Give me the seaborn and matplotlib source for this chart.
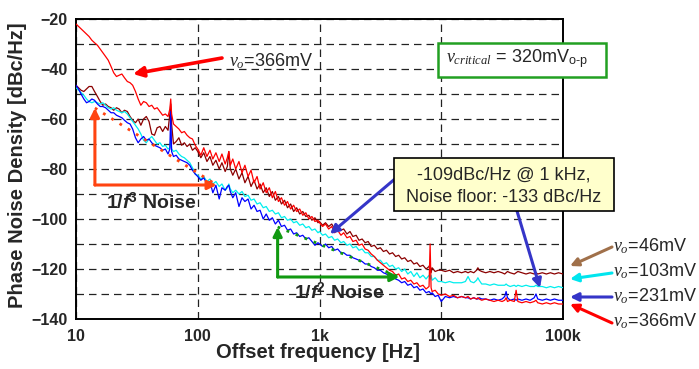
import matplotlib
matplotlib.use("Agg")
import matplotlib.pyplot as plt
from matplotlib.patches import Rectangle
from matplotlib.ticker import NullLocator
import pandas as pd
import seaborn as sns

# ---------------- data ----------------
freq_hz = [
    10, 10.5, 11, 11.6, 12.2, 12.8, 13.5, 14.2, 15, 15.8,
    16.6, 17.5, 18.4, 19.4, 20.4, 21.5, 22.6, 23.8, 25, 26.4,
    27.8, 29.2, 30.8, 32.4, 34.1, 35.9, 37.8, 39.8, 41.9, 44.1,
    46.4, 48.9, 51.5, 54.2, 57, 59, 60, 61, 63.2, 66.5,
    70, 73.7, 77.6, 81.7, 86, 90.5, 95.3,
    100, 106, 112, 119, 126, 133, 141, 150, 158, 168,
    175, 180, 185, 194, 205, 218, 231, 244, 259, 274,
    290, 307, 325, 345, 365, 387, 410, 434, 460, 487,
    516, 546, 579, 613, 649, 688, 729, 772, 818, 866,
    917, 972,
    1000, 1060, 1120, 1190, 1260, 1330, 1410, 1500, 1580, 1680,
    1780, 1880, 2000, 2110, 2240, 2370, 2510, 2660, 2820, 2990,
    3160, 3350, 3550, 3760, 3980, 4220, 4470, 4730, 5010, 5310,
    5620, 5960, 6310, 6680, 7080, 7500, 7940, 8100, 8250, 8410,
    8910, 9440,
    10000, 10800, 11700, 12600, 13600, 14700, 15800, 16600, 17400, 18500,
    19500, 20000, 20500, 21500, 23200, 25100, 27100, 29300, 31600, 33200,
    34100, 35000, 36800, 39800, 41200, 42600, 46000, 49700, 53700, 58000,
    60000, 62000, 67600, 73000, 78800, 85100, 91900, 100000,
]

pn_366mV = [
    -22, -23, -24, -25, -26, -27, -28.5, -29.5, -30.5, -32,
    -33.5, -35, -36.5, -39, -41.5, -43, -42.5, -42, -43.5, -45,
    -45.5, -46.5, -49, -52, -54.5, -53, -53.5, -55, -54.5, -56,
    -55.5, -57, -58.5, -58, -59, -56, -52, -58, -62, -63,
    -64, -65.5, -65, -66.5, -67.5, -68, -70.5,
    -72, -74.5, -71.5, -75, -72.5, -76, -73.5, -77, -74, -78,
    -75.5, -73, -78.5, -76, -80, -77, -81.5, -78.5, -83, -80.5,
    -85.5, -83, -88, -85.5, -89.5, -87.5, -91.5, -89, -93, -91.5,
    -94.5, -93, -96, -94.5, -97, -96, -98.5, -97.5, -100, -99,
    -101, -100.5,
    -101.5, -103, -102, -104, -103, -105.5, -104.5, -106.5, -105.5, -107.5,
    -107, -109, -108.5, -110.5, -110, -112, -112.5, -114, -115, -116.5,
    -117.5, -118.5, -119.5, -120.5, -121, -122.5, -122, -124, -123.5, -125,
    -124.5, -126, -125.5, -127, -126.5, -128, -127, -110, -127.5, -129,
    -128.5, -130,
    -130.5, -130, -131, -130.5, -131.5, -131, -131.5, -131, -132, -131.5,
    -132, -131.5, -132, -132.5, -132, -132.5, -133, -132.5, -133, -132.5,
    -131.5, -133, -132.5, -133, -128.5, -133, -133.5, -133, -133.5, -133,
    -132.5, -133.5, -134, -133.5, -134, -133.5, -134, -134,
]

pn_46mV = [
    -46.5, -47.5, -48.5, -49, -48, -47, -47, -49, -51, -53,
    -54.5, -54, -55, -55.5, -56.5, -55.5, -56, -57.5, -56.5, -57,
    -59, -60.5, -61.5, -60, -62.5, -60, -59, -61, -66, -66.5,
    -63.5, -63, -65, -63, -64.5, -58, -54, -62, -70, -69,
    -67.5, -70.5, -69.5, -71, -70, -72.5, -71.5,
    -73, -75.5, -73.5, -77, -75, -78.5, -76.5, -80, -77.5, -81,
    -79, -73, -80, -82.5, -80, -84, -81.5, -85.5, -83, -87,
    -84.5, -88, -86, -89.5, -87.5, -91, -89, -92.5, -91, -94,
    -92.5, -95.5, -94, -97, -95.5, -98, -97, -99, -98.5, -100.5,
    -99.5, -101.5,
    -101, -102.5, -101.5, -103, -102, -104, -103, -104.5, -104, -106,
    -105, -107, -106.5, -108.5, -108, -109.5, -109, -111, -110.5, -112,
    -111.5, -113, -112.5, -114, -113.5, -115, -114.5, -116, -115.5, -117,
    -116.5, -118, -117.5, -119, -118.5, -120, -119, -118, -121.5, -119.5,
    -121, -120.5,
    -120.5, -121, -120.5, -121.5, -121, -121.5, -121, -121.5, -121, -121.5,
    -120.5, -119.5, -120.5, -121, -121.5, -121, -121.5, -121, -121.5, -122,
    -121.5, -121, -121.5, -122, -121.5, -121, -121.5, -122, -121.5, -122,
    -121.5, -122, -121.5, -122, -121.5, -122, -121.5, -122,
]

pn_103mV = [
    -47.5, -48.5, -49.5, -50.5, -52, -53, -53.5, -53, -53.5, -54,
    -53.5, -54.5, -55.5, -56, -55.5, -56.5, -57, -57.5, -57, -58,
    -59.5, -61, -62.5, -64, -66, -68.5, -69.5, -68, -67, -68.5,
    -70, -69.5, -71, -70.5, -72, -71.5, -68, -72, -73, -72.5,
    -74, -75, -75.5, -76.5, -77.5, -79.5, -82,
    -82.5, -84, -83, -85, -84, -86, -85, -87, -86, -88.5,
    -87.5, -86, -88, -89.5, -88.5, -90, -89, -91, -90.5, -92.5,
    -92, -94, -93.5, -95.5, -95, -97, -96.5, -98, -97.5, -99.5,
    -99, -100.5, -100, -101.5, -101, -102.5, -102, -103.5, -103, -104.5,
    -104, -105.5,
    -105, -106.5, -106, -107.5, -107, -108.5, -108, -109.5, -109, -110.5,
    -110, -111.5, -111, -112.5, -112, -113.5, -113.5, -115, -115, -116.5,
    -116.5, -118, -117.5, -119, -118.5, -120, -119.5, -121, -120, -122,
    -121, -123, -121.5, -123.5, -122.5, -124, -122.5, -124, -122.5, -124.5,
    -123.5, -125,
    -125, -125.5, -125, -125.5, -125.5, -125.5, -125, -123, -125, -125.5,
    -124.5, -123.5, -124.5, -126, -126, -126.5, -126, -126.5, -126.5, -126.5,
    -126, -126.5, -127, -126.5, -127, -126.5, -127, -126.5, -127, -127,
    -126.5, -127, -127, -127.5, -127, -127.5, -127, -127.5,
]

pn_231mV = [
    -46.5, -48, -50, -52, -53.5, -53, -52, -52.5, -54, -55,
    -55, -55.5, -56.5, -57.5, -57.5, -58.5, -59, -59.5, -60.5, -61.5,
    -62, -64, -67.5, -69.5, -68, -67, -68.5, -68, -69.5, -70.5,
    -71, -71.5, -72.5, -72, -74, -72, -57, -73, -75, -74.5,
    -76, -76.5, -77, -77.5, -78.5, -80.5, -82,
    -83, -84.5, -83.5, -86, -85, -89.5, -86.5, -92, -87.5, -88.5,
    -87, -86.5, -89, -91.5, -89.5, -95, -91.5, -93, -92, -96,
    -94.5, -97, -96.5, -100, -98, -100.5, -99.5, -102, -100.5, -103,
    -102.5, -104.5, -104, -106, -105.5, -107, -106.5, -108, -107.5, -109,
    -110.5, -109.5,
    -110, -111, -110, -111.5, -111, -112.5, -112, -113.5, -113.5, -114.5,
    -114.5, -115.5, -116, -116.5, -117, -118, -118, -119, -119.5, -120.5,
    -120.5, -121.5, -122, -123, -123, -124, -124.5, -125.5, -125, -126.5,
    -126, -127.5, -127, -128.5, -128, -129.5, -129, -129.5, -130, -129.5,
    -131, -130.5,
    -133, -131, -131.5, -131, -131.5, -131, -131.5, -131.5, -132, -131.5,
    -132, -132, -131.5, -132, -132, -132.5, -132, -132.5, -132, -131,
    -129, -131.5, -132.5, -132, -132.5, -132, -132.5, -132, -132.5, -131.5,
    -130, -132, -132.5, -132, -132.5, -132, -132.5, -132.5,
]

series_labels = ["46mV", "103mV", "231mV", "366mV"]
series_values = [pn_46mV, pn_103mV, pn_231mV, pn_366mV]
series_colors = ["#8B0000", "#00EEEE", "#0000FF", "#FF0000"]

x_ticks = [10, 100, 1000, 10000, 100000]
x_tick_labels = ["10", "100", "1k", "10k", "100k"]
y_ticks = [-20, -40, -60, -80, -100, -120, -140]
y_minor = [-30, -50, -70, -90, -110, -130]

# slope-reference guides (f, dBc/Hz)
f3_corner = (14.3, -86.4)
f3_top = -55.6
f3_end = 143
f2_corner = (453, -123.2)
f2_top = -103.2
f2_end = 4530

# ---------------- style ----------------
sns.set_style("white")
plt.rcParams.update({
    "font.family": ["Liberation Sans", "DejaVu Sans"],
    "mathtext.fontset": "custom",
    "mathtext.rm": "Liberation Sans",
    "mathtext.it": "Liberation Serif:italic",
    "mathtext.bf": "Liberation Sans:bold",
    "mathtext.bfit": "Liberation Sans:italic:bold",
})

W, H = 699, 369
fig = plt.figure(figsize=(W / 100, H / 100), dpi=100)
ax = fig.add_axes([76 / W, 1 - 319 / H, 487 / W, 300 / H])


def P(x, y):
    return (x / W, 1 - y / H)


df = pd.concat(
    [pd.DataFrame({"freq": freq_hz, "pn": v, "vo": lab})
     for lab, v in zip(series_labels, series_values)],
    ignore_index=True,
)
sns.lineplot(data=df, x="freq", y="pn", hue="vo", hue_order=series_labels,
             palette=dict(zip(series_labels, series_colors)),
             estimator=None, sort=False, lw=0.9, legend=False, ax=ax, zorder=3)

ax.set_xscale("log")
ax.set_xlim(10, 100000)
ax.set_ylim(-140, -20)
ax.set_xticks(x_ticks)
ax.set_xticklabels(x_tick_labels)
ax.xaxis.set_minor_locator(NullLocator())
ax.set_yticks(y_ticks)
ax.set_yticks(y_minor, minor=True)
ax.tick_params(axis="both", which="both", length=0, labelsize=11.5)
ax.tick_params(axis="y", pad=6)
ax.tick_params(axis="x", pad=7)
for lab in ax.get_xticklabels() + ax.get_yticklabels():
    lab.set_fontweight("bold")
ax.grid(True, axis="y", which="both", ls=(0, (6, 4)), color="#222222", lw=0.9)
ax.grid(True, axis="x", which="major", ls=(0, (6, 4)), color="#222222", lw=0.9)
for s in ax.spines.values():
    s.set_color("black")
    s.set_linewidth(1.4)
ax.set_xlabel("")
ax.set_ylabel("")

fig.text(*P(318, 353), "Offset frequency [Hz]", ha="center", va="center",
         fontsize=14.5, fontweight="bold")
fig.text(*P(18, 165), "Phase Noise Density [dBc/Hz]", ha="center", va="center",
         rotation=90, fontsize=14.5, fontweight="bold")

# ---------- slope guides ----------
orange = "#FF4411"
green = "#119911"
ax.annotate("", xy=(f3_corner[0], f3_top), xytext=f3_corner,
            arrowprops=dict(arrowstyle="-|>", color=orange, lw=2.2,
                            mutation_scale=13, shrinkA=0, shrinkB=0), zorder=4)
ax.annotate("", xy=(f3_end, f3_corner[1]), xytext=f3_corner,
            arrowprops=dict(arrowstyle="-|>", color=orange, lw=2.2,
                            mutation_scale=13, shrinkA=0, shrinkB=0), zorder=4)
ax.plot([f3_corner[0], f3_end], [f3_top, f3_corner[1]], ls=(0, (1, 2.5)),
        color=orange, lw=2, zorder=4)
ax.annotate("", xy=(f2_corner[0], f2_top), xytext=f2_corner,
            arrowprops=dict(arrowstyle="-|>", color=green, lw=2.2,
                            mutation_scale=13, shrinkA=0, shrinkB=0), zorder=4)
ax.annotate("", xy=(f2_end, f2_corner[1]), xytext=f2_corner,
            arrowprops=dict(arrowstyle="-|>", color=green, lw=2.2,
                            mutation_scale=13, shrinkA=0, shrinkB=0), zorder=4)
ax.plot([f2_corner[0], f2_end], [f2_top, f2_corner[1]], ls=(0, (1, 2.5)),
        color=green, lw=2, zorder=4)

fig.text(*P(151, 203), r"$\mathbf{1/}\mathbfit{f}^{\mathbf{3}}$ Noise",
         ha="center", va="center", fontsize=14, fontweight="bold", zorder=6)
fig.text(*P(339, 292), r"$\mathbf{1/}\mathbfit{f}^{\mathbf{2}}$ Noise",
         ha="center", va="center", fontsize=14, fontweight="bold", zorder=6)


# ---------- annotations ----------
def farrow(p0, p1, color, lw=2.2, ms=13):
    ax.annotate("", xy=P(*p1), xycoords="figure fraction",
                xytext=P(*p0), textcoords="figure fraction",
                arrowprops=dict(arrowstyle="-|>", color=color, lw=lw,
                                mutation_scale=ms, shrinkA=0, shrinkB=0),
                annotation_clip=False, zorder=5)


farrow((222, 58), (133, 74), "#FF0000", lw=2.6, ms=15)
fig.text(*P(229, 61), r"$v_o$=366mV", ha="left", va="center", fontsize=13)

# green box
fig.add_artist(Rectangle(P(438, 77), 168 / W, 34 / H, transform=fig.transFigure,
                         facecolor="white", edgecolor="#22A022", lw=1.8, zorder=5))
fig.text(*P(446, 59), r"$v_{critical}$ = 320mV$_{\text{o-p}}$", ha="left",
         va="center", fontsize=13, zorder=6)

# yellow box with arrows
blue_arrow = "#3535C8"
farrow((396, 178), (330, 234), blue_arrow)
farrow((517, 211), (540, 288), blue_arrow)
fig.add_artist(Rectangle(P(394, 211), 220 / W, 53 / H, transform=fig.transFigure,
                         facecolor="#FFFFCC", edgecolor="black", lw=1.2, zorder=5))
fig.text(*P(504, 175), "-109dBc/Hz @ 1 kHz,", ha="center", va="center",
         fontsize=13, zorder=6)
fig.text(*P(504, 197), "Noise floor: -133 dBc/Hz", ha="center", va="center",
         fontsize=13, zorder=6)

# right-side labels
label_arrow_colors = ["#A0704A", "#00E5EE", "#3535C8", "#FF0000"]
label_y = [246, 271, 296, 321]
arrow_tips = [(570, 266), (570, 279), (570, 297), (570, 304)]
arrow_tails = [(612, 247), (612, 273), (612, 297), (612, 323)]
for lab, c, yy, tip, tail in zip(series_labels, label_arrow_colors, label_y,
                                 arrow_tips, arrow_tails):
    farrow(tail, tip, c, lw=2.2, ms=12)
    fig.text(*P(613, yy), r"$v_o$=" + lab, ha="left", va="center", fontsize=13)

fig.savefig("out.png", dpi=100)
